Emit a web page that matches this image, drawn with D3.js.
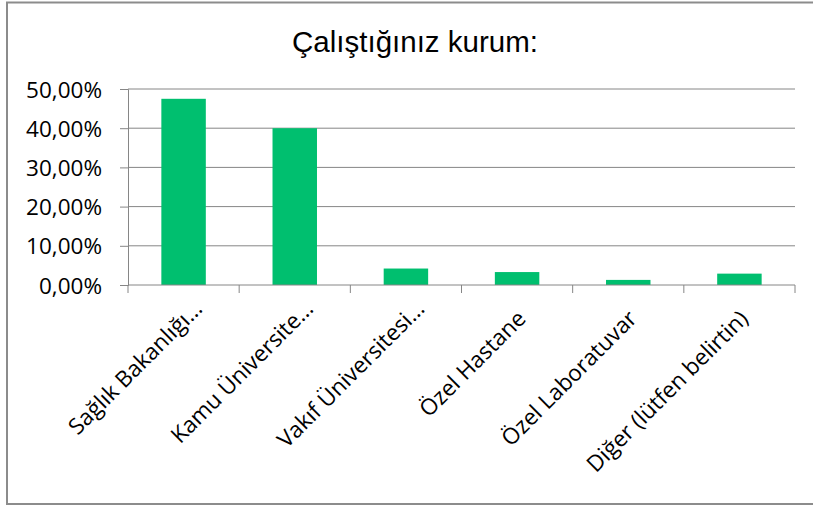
<!DOCTYPE html>
<html lang='tr'>
<head>
	<meta charset='UTF-8'>
	<title>Çalıştığınız kurum</title>
	<style>
		html, body { margin: 0; background: #fff; overflow: hidden; }
		svg { display: block; }
	</style>
</head>
<body>

<svg></svg>

<script src='https://d3js.org/d3.v7.min.js'></script>
<script>
const title = 'Çalıştığınız kurum:'
const categories = ['Sağlık Bakanlığı…', 'Kamu Üniversite…', 'Vakıf Üniversitesi…', 'Özel Hastane', 'Özel Laboratuvar', 'Diğer (lütfen belirtin)']
const values = [0.475, 0.40, 0.042, 0.033, 0.013, 0.029]
const yTicks = [0, 0.1, 0.2, 0.3, 0.4, 0.5]

const width = 813
const height = 506
const margin = { top: 89, right: 18, bottom: 221, left: 128 }
const gridColor = '#868686'
const barColor = '#00bf6f'
const labelFont = "'Open Sans', sans-serif"

const tr = d3.formatLocale({ decimal: ',', thousands: '.', grouping: [3], currency: ['', ' TL'] })
const pct = tr.format('.2%')

const svg = d3.select('svg')
	.attr('width', width)
	.attr('height', height)

// chart frame: the right edge runs off the picture, so only three sides
const frame = d3.path()
frame.moveTo(width + 5, 2.5)
frame.lineTo(7, 2.5)
frame.lineTo(7, 504)
frame.lineTo(width + 5, 504)
svg.append('path')
	.attr('d', frame.toString())
	.attr('fill', 'none')
	.attr('stroke', '#8c8c8c')
	.attr('stroke-width', 2)

svg.append('text')
	.attr('x', 415)
	.attr('y', 52)
	.attr('text-anchor', 'middle')
	.attr('font-family', "'Liberation Sans', Arial, sans-serif")
	.attr('font-size', 29.5)
	.attr('fill', '#000')
	.text(title)

const x = d3.scaleBand()
	.domain(categories)
	.range([margin.left, width - margin.right])
	.paddingInner(0.6)
	.paddingOuter(0.3)

const y = d3.scaleLinear()
	.domain([0, 0.5])
	.range([height - margin.bottom, margin.top])

const yAxis = svg.append('g')
	.attr('transform', `translate(${margin.left},0)`)
	.call(d3.axisLeft(y).tickValues(yTicks).tickFormat(pct).tickSize(8).tickPadding(18))

yAxis.select('.domain').attr('stroke', gridColor)
yAxis.selectAll('.tick line').attr('stroke', gridColor)
yAxis.selectAll('.tick text')
	.attr('font-family', labelFont)
	.attr('font-size', 22.5)
	.attr('fill', '#000')
	.attr('dy', '0.36em')

svg.append('g')
	.selectAll('line')
	.data(yTicks.filter(d => d > 0))
	.join('line')
	.attr('x1', margin.left)
	.attr('x2', width - margin.right)
	.attr('y1', d => y(d))
	.attr('y2', d => y(d))
	.attr('stroke', gridColor)

svg.append('g')
	.selectAll('rect')
	.data(values)
	.join('rect')
	.attr('x', (d, i) => x(categories[i]))
	.attr('y', d => y(d))
	.attr('width', x.bandwidth())
	.attr('height', d => y(0) - y(d))
	.attr('fill', barColor)

// category axis: ticks sit on the borders between categories
const xAxis = svg.append('g')
	.attr('transform', `translate(0,${y(0)})`)

xAxis.append('line')
	.attr('x1', margin.left)
	.attr('x2', width - margin.right)
	.attr('stroke', gridColor)

const half = (x.step() - x.bandwidth()) / 2
const borders = categories.map(c => x(c) - half).concat([width - margin.right])

xAxis.selectAll('.border')
	.data(borders)
	.join('line')
	.attr('class', 'border')
	.attr('x1', d => d)
	.attr('x2', d => d)
	.attr('y1', 0)
	.attr('y2', 8)
	.attr('stroke', gridColor)

// cut-off labels (ending in …) sit a little further along the slant
const labelShift = d => d.endsWith('…') ? [20, 25] : [10, 35]

xAxis.selectAll('.label')
	.data(categories)
	.join('text')
	.attr('class', 'label')
	.attr('transform', d => {
		const [dx, dy] = labelShift(d)
		return `translate(${x(d) + x.bandwidth() / 2 + dx},${dy}) rotate(-45)`
	})
	.attr('text-anchor', 'end')
	.attr('font-family', labelFont)
	.attr('font-size', 22.5)
	.attr('fill', '#000')
	.text(d => d)
</script>
</body>
</html>
